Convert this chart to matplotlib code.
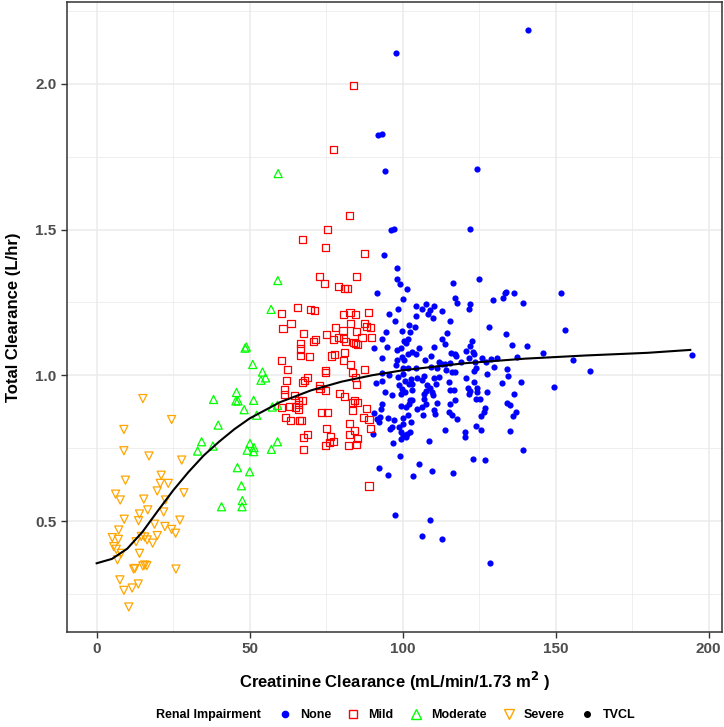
import matplotlib.pyplot as plt
import matplotlib.font_manager as fm
from matplotlib.lines import Line2D
import numpy as np

names = [f.name for f in fm.fontManager.ttflist]
fam = 'Liberation Sans Narrow' if 'Liberation Sans Narrow' in names else 'Liberation Sans'
plt.rcParams['font.family'] = [fam, 'DejaVu Sans']
plt.rcParams['font.weight'] = 'bold'

# renal impairment groups: (CrCL, CL)
none_pts = [
    (97.9, 2.105), (92.0, 1.824), (93.1, 1.829), (94.2, 1.702), (140.9, 2.185), (124.3, 1.709),
    (96.1, 1.499), (97.3, 1.502), (122.0, 1.502), (93.8, 1.414), (98.2, 1.367), (98.1, 1.329),
    (99.0, 1.314), (101.3, 1.296), (91.7, 1.283), (116.6, 1.318), (124.9, 1.329), (117.0, 1.264),
    (100.2, 1.260), (129.4, 1.257), (133.6, 1.282),
    (133.8, 1.284), (136.5, 1.282), (132.7, 1.266), (139.2, 1.249), (151.6, 1.283), (152.9, 1.155),
    (133.9, 1.140), (135.8, 1.103), (140.6, 1.099), (146.0, 1.076), (137.5, 1.061), (155.6, 1.054),
    (161.2, 1.016), (134.0, 1.021), (134.4, 0.998), (132.3, 0.975), (138.8, 0.976), (149.3, 0.960),
    (136.5, 0.937), (134.1, 0.905), (135.2, 0.897), (137.2, 0.873), (136.0, 0.859), (135.2, 0.808),
    (194.6, 1.068), (139.3, 0.742),
    (117.9, 1.247), (121.9, 1.245), (121.8, 1.228), (104.2, 1.239), (106.2, 1.228), (107.5, 1.245),
    (110.1, 1.239), (108.8, 1.225), (110.0, 1.197), (113.0, 1.220), (98.6, 1.228), (95.5, 1.211),
    (97.4, 1.186), (104.2, 1.205), (108.3, 1.209), (115.6, 1.186), (128.3, 1.165), (102.0, 1.171),
    (104.0, 1.167), (99.9, 1.151), (102.4, 1.148), (94.7, 1.147), (93.3, 1.125), (101.8, 1.125),
    (101.2, 1.110), (112.9, 1.125), (114.4, 1.145), (113.8, 1.106), (90.6, 1.094), (94.9, 1.097),
    (98.0, 1.088), (99.4, 1.093), (100.4, 1.116), (105.5, 1.094), (110.1, 1.097), (102.9, 1.080),
    (122.7, 1.116), (122.0, 1.099), (120.8, 1.083), (122.9, 1.080), (123.3, 1.072), (115.7, 1.076),
    (117.0, 1.072), (117.5, 1.065), (93.3, 1.060), (98.3, 1.053), (99.9, 1.062), (100.4, 1.053),
    (101.8, 1.074), (104.2, 1.074), (107.3, 1.053), (109.3, 1.065), (112.0, 1.045), (112.7, 1.040),
    (113.8, 1.037), (115.6, 1.042), (119.0, 1.045), (121.6, 1.060), (123.8, 1.046), (126.0, 1.060),
    (127.3, 1.046), (129.0, 1.057), (130.9, 1.060), (129.8, 1.030), (124.1, 1.026), (123.2, 1.014),
    (97.7, 1.034), (100.1, 1.026), (101.8, 1.026), (104.4, 1.026), (109.2, 1.030), (111.3, 1.026),
    (114.3, 1.019), (116.0, 1.011), (117.0, 1.011), (93.3, 1.008), (95.5, 1.000), (91.4, 0.973),
    (93.3, 0.980), (98.6, 0.994), (100.1, 1.005), (100.7, 0.982), (102.6, 0.988), (98.8, 0.965),
    (102.0, 0.969), (104.8, 0.992), (106.4, 0.985), (106.9, 0.996), (110.2, 0.992), (111.8, 0.994),
    (115.1, 0.977), (120.7, 0.992), (123.3, 0.977), (127.5, 1.005), (103.1, 0.971), (99.9, 0.954),
    (99.3, 0.937), (100.7, 0.943), (103.1, 0.948), (108.0, 0.965), (108.8, 0.957), (111.0, 0.971),
    (109.7, 0.943), (94.2, 0.943), (96.6, 0.931), (106.9, 0.937), (107.7, 0.946), (115.6, 0.948),
    (116.7, 0.948), (121.2, 0.957), (121.9, 0.946), (124.2, 0.957), (124.4, 0.943), (121.6, 0.937),
    (127.6, 0.943), (124.0, 0.920), (125.2, 0.920), (117.0, 0.914), (115.5, 0.903), (102.9, 0.916),
    (102.3, 0.914), (106.9, 0.920), (107.5, 0.900), (111.3, 0.905), (110.0, 0.931), (93.3, 0.900),
    (92.8, 0.885), (99.3, 0.893), (101.0, 0.891), (102.0, 0.900), (104.8, 0.885), (106.4, 0.891),
    (106.7, 0.863), (110.2, 0.880), (110.7, 0.866), (115.1, 0.874), (116.0, 0.863), (117.6, 0.851),
    (126.8, 0.889), (126.5, 0.874), (125.7, 0.859), (90.6, 0.871), (91.6, 0.851), (92.5, 0.857),
    (95.1, 0.855), (97.2, 0.848), (100.2, 0.855), (101.8, 0.864), (102.6, 0.840), (100.1, 0.834),
    (92.3, 0.840), (96.4, 0.823), (95.7, 0.814), (98.8, 0.823), (99.3, 0.805), (100.1, 0.794),
    (101.5, 0.800), (102.3, 0.805), (101.0, 0.788), (99.5, 0.783), (90.3, 0.798), (96.8, 0.769),
    (108.6, 0.773), (113.8, 0.813), (120.5, 0.805), (120.3, 0.788), (124.0, 0.827), (125.5, 0.813),
    (99.2, 0.722), (105.5, 0.697), (123.0, 0.713), (127.0, 0.708), (92.3, 0.681), (95.3, 0.658),
    (103.3, 0.654), (109.7, 0.672), (116.4, 0.666), (97.6, 0.519), (108.9, 0.502), (106.2, 0.448),
    (113.0, 0.438), (128.6, 0.357),
]

mild_pts = [
    (82.5, 1.548), (75.4, 1.499), (67.3, 1.466), (74.8, 1.438), (87.5, 1.419), (72.7, 1.339),
    (74.4, 1.314), (85.0, 1.340), (79.0, 1.305), (81.1, 1.297), (81.9, 1.297), (60.4, 1.213),
    (65.5, 1.231), (69.8, 1.226), (71.1, 1.223), (63.5, 1.179), (60.9, 1.161), (67.6, 1.144),
    (71.6, 1.124), (71.0, 1.115), (66.7, 1.109), (66.7, 1.090), (66.7, 1.067), (69.6, 1.063),
    (60.3, 1.051), (62.3, 1.020), (62.0, 0.982), (61.4, 0.951), (61.4, 0.935), (67.3, 0.974),
    (67.9, 0.982), (68.9, 0.992), (64.7, 0.930), (65.9, 0.912), (65.9, 0.900), (65.9, 0.882),
    (67.3, 0.914), (60.4, 0.889), (63.1, 0.894), (61.6, 0.854), (63.3, 0.846), (66.9, 0.846),
    (68.9, 0.797), (67.7, 0.785), (67.6, 0.746), (72.7, 0.965), (73.0, 0.955), (74.7, 0.949),
    (74.7, 1.017), (74.7, 1.008), (75.1, 1.141), (76.7, 1.066), (77.8, 1.072), (78.0, 1.163),
    (77.4, 1.124), (79.0, 1.131), (80.5, 1.154), (80.6, 1.126), (81.2, 1.115), (81.0, 1.079),
    (80.6, 1.051), (82.9, 1.038), (80.6, 1.208), (82.8, 1.215), (84.5, 1.208), (82.9, 1.179),
    (84.9, 1.151), (83.9, 1.112), (84.5, 1.109), (85.3, 1.104), (86.7, 1.129), (87.5, 1.179),
    (88.2, 1.168), (88.8, 1.216), (83.6, 1.008), (84.6, 0.992), (85.0, 0.969), (87.5, 1.021),
    (79.3, 0.937), (80.9, 0.928), (84.4, 0.912), (83.6, 0.905), (85.1, 0.905), (83.6, 0.880),
    (88.1, 0.886), (87.2, 0.855), (89.0, 0.848), (73.6, 0.871), (75.4, 0.871), (75.1, 0.817),
    (76.5, 0.789), (76.0, 0.770), (77.4, 0.772), (74.7, 0.758), (82.5, 0.835), (82.5, 0.798),
    (84.4, 0.809), (85.3, 0.783), (82.3, 0.758), (84.9, 0.763), (89.0, 0.620), (83.8, 1.993),
    (77.5, 1.773), (89.6, 1.163), (89.9, 1.129), (89.6, 0.817), (65.1, 0.891), (66.4, 0.844),
]

moderate_pts = [
    (59.3, 1.692), (59.2, 1.325), (57.0, 1.226), (48.5, 1.093), (48.9, 1.097), (51.0, 1.037),
    (54.2, 1.011), (53.7, 0.983), (55.2, 0.991), (45.7, 0.941), (38.2, 0.917), (45.5, 0.912),
    (46.2, 0.912), (51.3, 0.914), (48.2, 0.882), (52.3, 0.863), (57.4, 0.891), (59.1, 0.897),
    (39.7, 0.829), (34.3, 0.772), (33.0, 0.740), (38.0, 0.757), (50.1, 0.766), (51.4, 0.752),
    (49.2, 0.743), (51.3, 0.738), (59.1, 0.772), (57.1, 0.746), (46.0, 0.683), (50.0, 0.669),
    (47.3, 0.621), (40.8, 0.549), (47.6, 0.570), (47.5, 0.549),
]

severe_pts = [
    (15.1, 0.920), (24.5, 0.848), (8.9, 0.814), (8.9, 0.741), (17.1, 0.723), (27.8, 0.709),
    (9.4, 0.640), (21.1, 0.657), (20.8, 0.629), (23.4, 0.629), (19.8, 0.603), (6.2, 0.592),
    (7.7, 0.572), (28.5, 0.597), (15.4, 0.575), (22.5, 0.572), (16.7, 0.538), (14.0, 0.524),
    (21.9, 0.531), (13.7, 0.501), (9.0, 0.506), (27.2, 0.503), (18.9, 0.489), (22.3, 0.481),
    (7.2, 0.469), (24.5, 0.471), (25.8, 0.458), (19.8, 0.450), (14.6, 0.447), (15.7, 0.445),
    (5.1, 0.443), (7.1, 0.437), (12.9, 0.429), (16.5, 0.435), (18.3, 0.424), (5.6, 0.412),
    (6.4, 0.403), (8.0, 0.389), (6.8, 0.367), (14.0, 0.389), (15.7, 0.349), (16.4, 0.347),
    (15.1, 0.346), (12.5, 0.337), (12.1, 0.335), (25.9, 0.335), (7.6, 0.298), (13.6, 0.284),
    (11.6, 0.270), (8.9, 0.262), (10.5, 0.205),
]

# typical value curve
tvcl_crcl = [0, 5, 10, 15, 20, 25, 30, 35, 40, 45, 50, 60, 70, 80, 90, 100, 120, 140, 160, 180, 194]
tvcl_cl = [0.355, 0.370, 0.405, 0.463, 0.535, 0.605, 0.668, 0.725, 0.772, 0.815, 0.852, 0.908,
           0.948, 0.978, 1.000, 1.017, 1.041, 1.057, 1.068, 1.077, 1.087]

fig = plt.figure(figsize=(7.24, 7.27), dpi=100)
ax = fig.add_axes([0.0925, 0.131, 0.9045, 0.866])

x, y = zip(*none_pts)
ax.scatter(x, y, s=20, marker='o', color='#0000FF', linewidths=0, zorder=3)
x, y = zip(*mild_pts)
ax.scatter(x, y, s=26, marker='s', facecolors='none', edgecolors='#FF0000', linewidths=0.9, zorder=3)
x, y = zip(*moderate_pts)
ax.scatter(x, y, s=34, marker='^', facecolors='none', edgecolors='#00FF00', linewidths=0.9, zorder=3)
x, y = zip(*severe_pts)
ax.scatter(x, y, s=34, marker='v', facecolors='none', edgecolors='#FFA500', linewidths=0.9, zorder=3)
ax.plot(tvcl_crcl, tvcl_cl, color='black', lw=1.5, zorder=4)

ax.set_xlim(-9.7, 204.3)
ax.set_ylim(0.12, 2.28)
ax.set_xticks([0, 50, 100, 150, 200])
ax.set_xticks([25, 75, 125, 175], minor=True)
ax.set_yticks([0.5, 1.0, 1.5, 2.0])
ax.set_yticks([0.25, 0.75, 1.25, 1.75, 2.25], minor=True)
ax.grid(which='major', color='#EBEBEB', lw=1.1, zorder=0)
ax.grid(which='minor', color='#EBEBEB', lw=0.55, zorder=0)
ax.set_axisbelow(True)
ax.tick_params(which='major', length=4, width=1, color='#333333', labelsize=11, labelcolor='#4D4D4D')
ax.tick_params(which='minor', length=0)
for sp in ax.spines.values():
    sp.set_color('#333333')
    sp.set_linewidth(1.1)

ax.set_xlabel('Creatinine Clearance (mL/min/1.73 m$^{2}$ )', fontsize=12, fontweight='bold', labelpad=10)
ax.set_ylabel('Total Clearance (L/hr)', fontsize=12, fontweight='bold', labelpad=10)

fig.text(0.215, 0.0165, 'Renal Impairment', fontsize=9, fontweight='bold', ha='left', va='center')
handles = [
    Line2D([], [], ls='none', marker='o', color='#0000FF', markersize=4.5),
    Line2D([], [], ls='none', marker='s', mfc='none', mec='#FF0000', markersize=6, mew=1),
    Line2D([], [], ls='none', marker='^', mfc='none', mec='#00FF00', markersize=7, mew=1),
    Line2D([], [], ls='none', marker='v', mfc='none', mec='#FFA500', markersize=7, mew=1),
    Line2D([], [], ls='none', marker='o', color='black', markersize=4),
]
fig.legend(handles, ['None', 'Mild', 'Moderate', 'Severe', 'TVCL'], loc='center',
           bbox_to_anchor=(0.63, 0.0165), ncol=5, frameon=False, prop={'size': 9, 'weight': 'bold'},
           handlelength=1.2, handletextpad=0.6, columnspacing=1.2)

fig.savefig('out.png', dpi=100)
